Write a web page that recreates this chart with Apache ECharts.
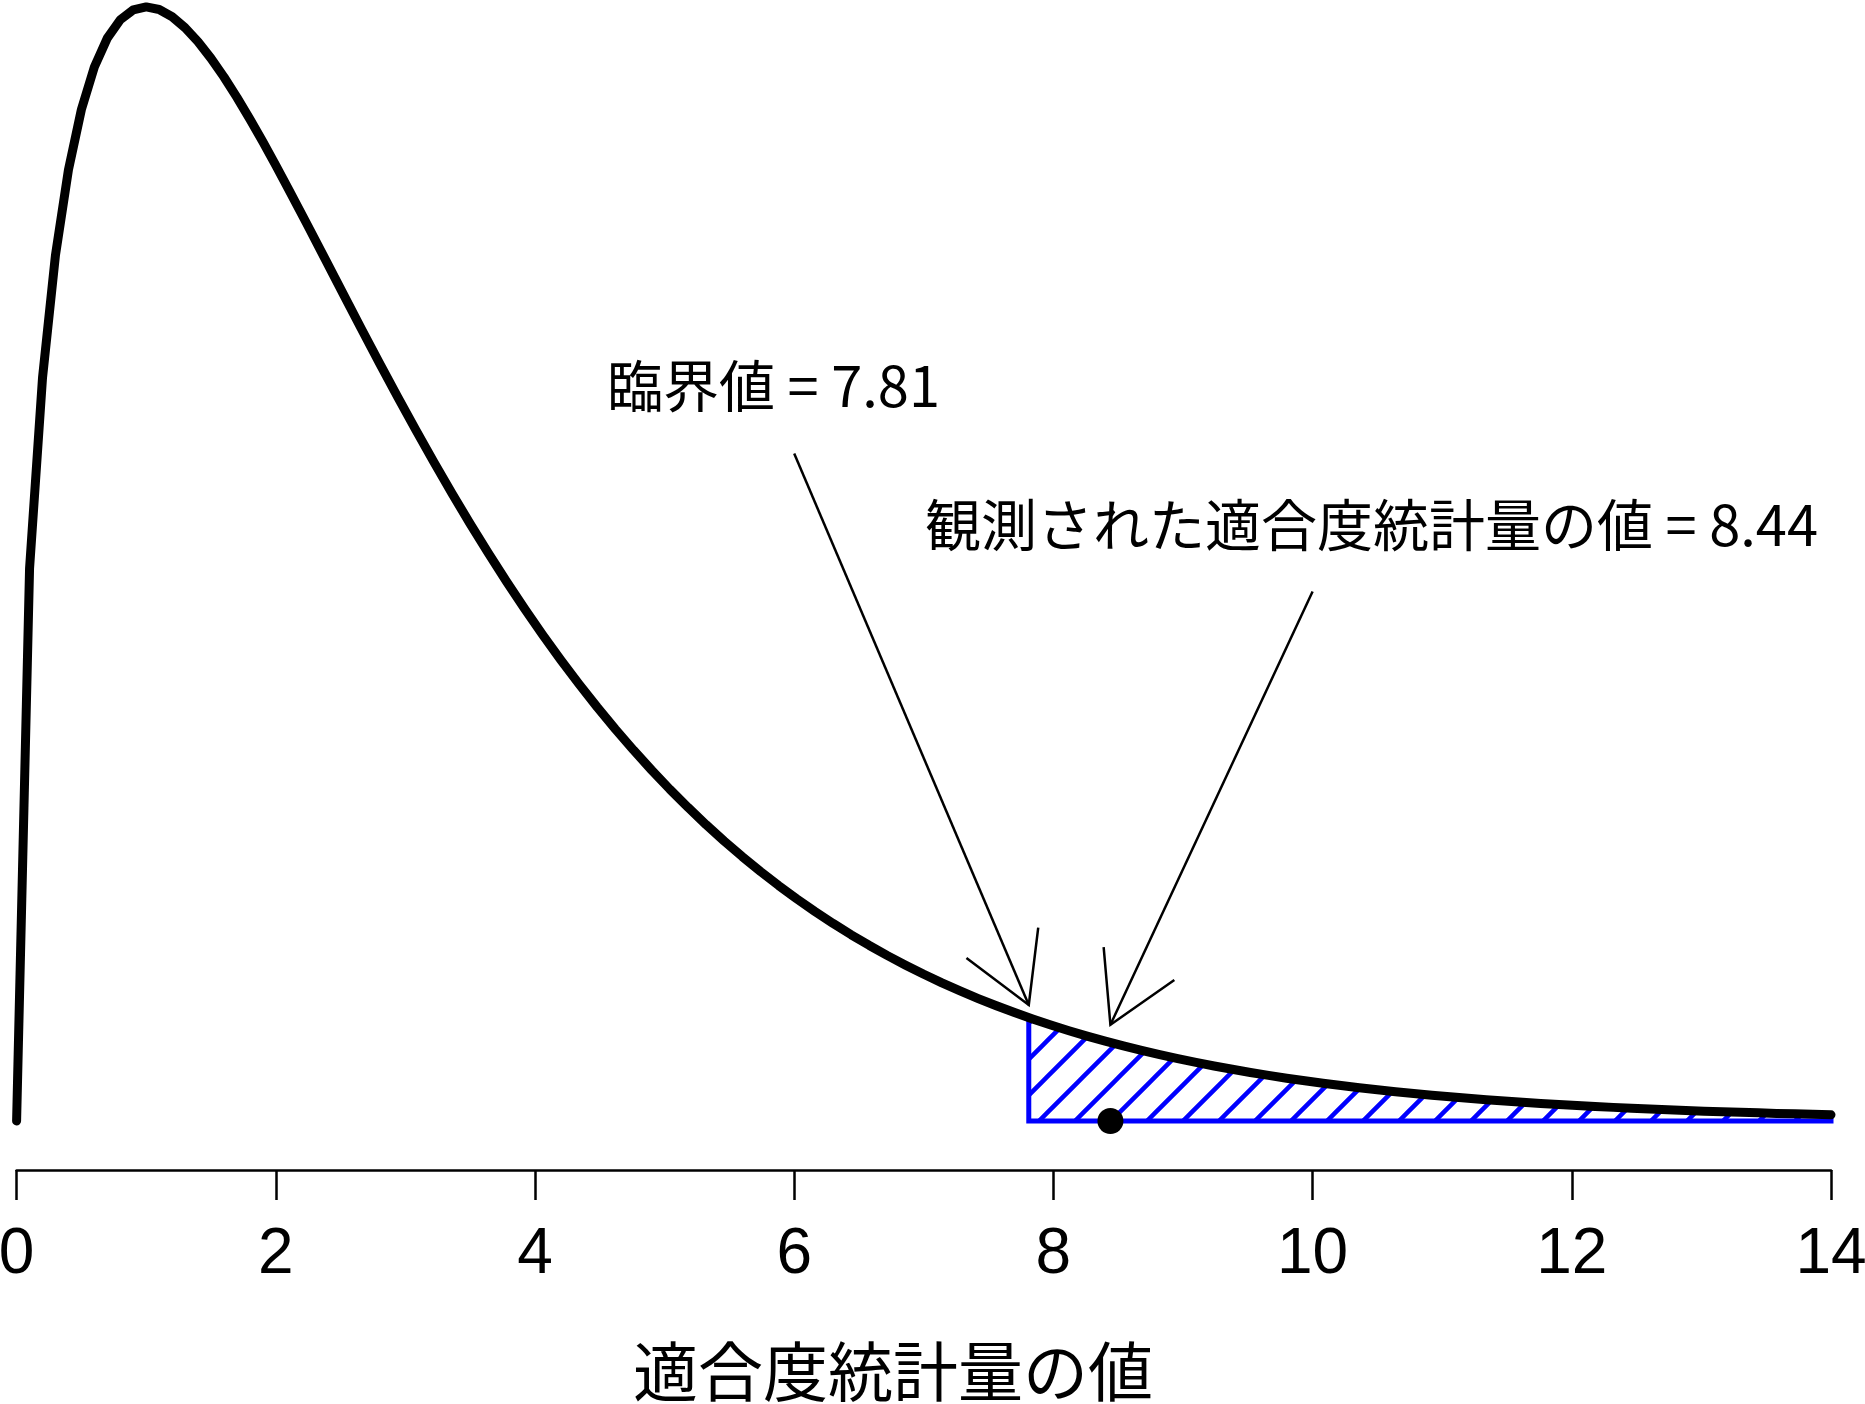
<!DOCTYPE html>
<html><head><meta charset="utf-8">
<script src="https://cdn.jsdelivr.net/npm/echarts@6/dist/echarts.min.js"></script>
<style>html,body{margin:0;padding:0;background:#fff}#c{width:1865px;height:1404px}</style>
</head><body><div id="c"></div><script>
// ---- data ----
const xValues = [0,0.1,0.2,0.3,0.4,0.5,0.6,0.7,0.8,0.9,1.0,1.1,1.2,1.3,1.4,1.5,1.6,1.7,1.8,1.9,2.0,2.10,2.24,2.38,2.52,2.66,2.80,2.94,3.08,3.22,3.36,3.50,3.64,3.78,3.92,4.06,4.20,4.34,4.48,4.62,4.76,4.90,5.04,5.18,5.32,5.46,5.60,5.74,5.88,6.02,6.16,6.30,6.44,6.58,6.72,6.86,7.00,7.14,7.28,7.42,7.56,7.70,7.84,7.98,8.12,8.26,8.40,8.54,8.68,8.82,8.96,9.10,9.24,9.38,9.52,9.66,9.80,9.94,10.08,10.22,10.36,10.50,10.64,10.78,10.92,11.06,11.20,11.34,11.48,11.62,11.76,11.90,12.04,12.18,12.32,12.46,12.60,12.74,12.88,13.02,13.16,13.30,13.44,13.58,13.72,13.86,14.00];
const densityValues = [0,0.12000,0.16143,0.18807,0.20658,0.21970,0.22893,0.23521,0.23919,0.24132,0.24197,0.24141,0.23984,0.23746,0.23440,0.23080,0.22675,0.22232,0.21761,0.21267,0.20755,0.20231,0.19482,0.18724,0.17964,0.17208,0.16462,0.15728,0.15010,0.14310,0.13629,0.12970,0.12332,0.11718,0.11126,0.10557,0.10012,0.09489,0.08989,0.08512,0.08056,0.07621,0.07206,0.06812,0.06436,0.06080,0.05741,0.05419,0.05114,0.04825,0.04551,0.04291,0.04045,0.03812,0.03592,0.03384,0.03187,0.03001,0.02826,0.02660,0.02503,0.02356,0.02216,0.02085,0.01961,0.01844,0.01734,0.01630,0.01532,0.01440,0.01353,0.01272,0.01195,0.01123,0.01054,0.00990,0.00930,0.00873,0.00820,0.00770,0.00723,0.00678,0.00637,0.00598,0.00561,0.00526,0.00494,0.00463,0.00435,0.00408,0.00382,0.00359,0.00336,0.00315,0.00296,0.00277,0.00260,0.00244,0.00229,0.00214,0.00201,0.00188,0.00177,0.00165,0.00155,0.00145,0.00136];
const criticalValue = 7.81;
const criticalDensity = 0.02246;
const observedValue = 8.44;
const arrowFrom = [[6.00, 0.145], [10.00, 0.115]];
const arrowTo = [[7.81, 0.0252], [8.44, 0.0209]];
const xTicks = [0, 2, 4, 6, 8, 10, 12, 14];
const labelCritical = '臨界値 = 7.81';
const labelObserved = '観測された適合度統計量の値 = 8.44';
const axisTitle = '適合度統計量の値';

// ---- build ----
const curve = xValues.map((x, i) => [x, densityValues[i]]);
const tail = [[criticalValue, 0], [criticalValue, criticalDensity]];
curve.forEach(p => { if (p[0] > criticalValue) tail.push(p); });
tail.push([xValues[xValues.length - 1], 0]);

function makeHatch() {
  const s = 36;
  const c = document.createElement('canvas');
  c.width = s; c.height = s;
  const g = c.getContext('2d');
  g.strokeStyle = '#0000ff';
  g.lineWidth = 4.5;
  g.beginPath();
  g.moveTo(-s, s); g.lineTo(s, -s);
  g.moveTo(-s, 2 * s); g.lineTo(2 * s, -s);
  g.moveTo(0, 2 * s); g.lineTo(2 * s, 0);
  g.stroke();
  return c;
}
const hatch = makeHatch();
const cjk = '"Noto Sans CJK JP", "Noto Sans", sans-serif';

const chart = echarts.init(document.getElementById('c'), null, { renderer: 'canvas' });
chart.setOption({
  animation: false,
  backgroundColor: '#ffffff',
  grid: { left: 16.6, right: 34, top: 16, bottom: 283, containLabel: false, outerBoundsMode: 'none' },
  xAxis: {
    type: 'value', min: xTicks[0], max: xTicks[xTicks.length - 1], interval: 2,
    offset: 49,
    axisLine: { show: true, onZero: false, lineStyle: { color: '#000', width: 2.5 } },
    axisTick: { show: true, length: 30, lineStyle: { color: '#000', width: 2.5 } },
    splitLine: { show: false },
    axisLabel: { show: true, color: '#000', fontSize: 64, fontFamily: '"Liberation Sans", Arial, sans-serif', margin: 85, verticalAlign: 'middle', showMinLabel: true, showMaxLabel: true, hideOverlap: false }
  },
  yAxis: { type: 'value', min: 0, max: 0.24, show: false },
  series: [
    {
      type: 'custom', coordinateSystem: 'cartesian2d', silent: true, z: 2, clip: false,
      data: [[criticalValue, 0]],
      renderItem: function (params, api) {
        const pts = tail.map(p => api.coord(p));
        return {
          type: 'polygon', shape: { points: pts },
          style: { fill: { image: hatch, repeat: 'repeat' }, stroke: '#0000ff', lineWidth: 5, lineJoin: 'miter' }
        };
      }
    },
    {
      type: 'line', data: curve, showSymbol: false, symbol: 'none', clip: false, z: 3, silent: true,
      lineStyle: { color: '#000', width: 9, cap: 'round', join: 'round' }
    },
    {
      type: 'scatter', data: [[observedValue, 0]], symbolSize: 26, clip: false, z: 4, silent: true,
      itemStyle: { color: '#000', opacity: 1 }
    },
    {
      type: 'custom', coordinateSystem: 'cartesian2d', silent: true, z: 5, clip: false,
      data: arrowFrom.map((f, i) => [f[0], f[1], arrowTo[i][0], arrowTo[i][1]]),
      encode: { x: [0, 2], y: [1, 3] },
      renderItem: function (params, api) {
        const a = api.coord([api.value(0), api.value(1)]);
        const b = api.coord([api.value(2), api.value(3)]);
        const dx = a[0] - b[0], dy = a[1] - b[1];
        const L = Math.hypot(dx, dy);
        const ux = dx / L, uy = dy / L;
        const h = 78, c = Math.cos(Math.PI / 6), s = Math.sin(Math.PI / 6);
        const p1 = [b[0] + h * (ux * c - uy * s), b[1] + h * (ux * s + uy * c)];
        const p2 = [b[0] + h * (ux * c + uy * s), b[1] + h * (-ux * s + uy * c)];
        return {
          type: 'group', children: [
            { type: 'line', shape: { x1: a[0], y1: a[1], x2: b[0], y2: b[1] }, style: { stroke: '#000', lineWidth: 2.5 } },
            { type: 'polyline', shape: { points: [p1, b, p2] }, style: { stroke: '#000', lineWidth: 2.5, fill: null } }
          ]
        };
      }
    }
  ],
  graphic: [
    { type: 'text', x: 607, y: 386, silent: true, style: { text: labelCritical, fontSize: 56, fontFamily: cjk, fill: '#000', align: 'left', verticalAlign: 'middle' } },
    { type: 'text', x: 925, y: 525, silent: true, style: { text: labelObserved, fontSize: 56, fontFamily: cjk, fill: '#000', align: 'left', verticalAlign: 'middle' } },
    { type: 'text', x: 893, y: 1371, silent: true, style: { text: axisTitle, fontSize: 65, fontFamily: cjk, fill: '#000', align: 'center', verticalAlign: 'middle' } }
  ]
});
</script></body></html>
